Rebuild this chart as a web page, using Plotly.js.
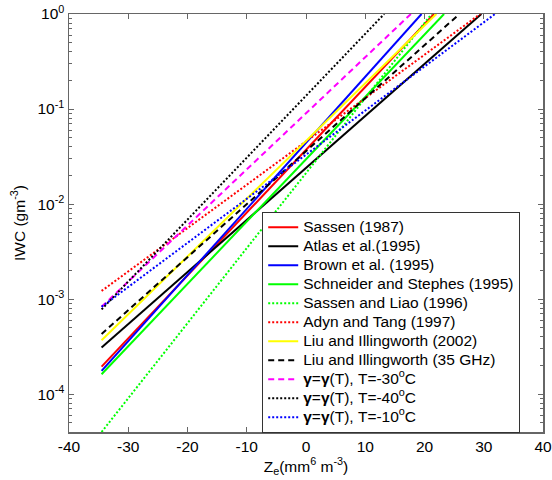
<!DOCTYPE html>
<html>
<head>
<meta charset="utf-8">
<script src="https://cdn.plot.ly/plotly-3.0.1.min.js"></script>
<style>html,body{margin:0;padding:0;background:#fff;}</style>
</head>
<body>
<div id="chart" style="width:552px;height:480px;"></div>
<script>
// Series names (legend order)
const seriesNames = [
  "Sassen (1987)",
  "Atlas et al.(1995)",
  "Brown et al. (1995)",
  "Schneider and Stephes (1995)",
  "Sassen and Liao (1996)",
  "Adyn and Tang (1997)",
  "Liu and Illingworth (2002)",
  "Liu and Illingworth (35 GHz)",
  "γ=γ(T), T=-30<sup>o</sup>C",
  "γ=γ(T), T=-40<sup>o</sup>C",
  "γ=γ(T), T=-10<sup>o</sup>C"
];
// Start of each line (Ze in dBZ, IWC in g m^-3)
const zeStart  = [-34.5, -34.5, -34.5, -34.5, -34.5, -34.5, -34.5, -34.5, -34.5, -34.5, -34.5];
const iwcStart = [1.95e-4, 3.1e-4, 1.76e-4, 1.62e-4, 4.0e-5, 1.22e-3, 3.7e-4, 4.3e-4, 8.3e-4, 7.8e-4, 8.3e-4];
// End of each line (where it leaves the top of the plot)
const zeEnd    = [21.6, 29.6, 19.5, 23.3, 21.2, 29.4, 22.0, 25.9, 17.7, 13.2, 31.9];
const iwcEnd   = [1, 1, 1, 1, 1, 1, 1, 1, 1, 1, 1];

// Axis ticks
const xTickVals = [-40, -30, -20, -10, 0, 10, 20, 30, 40];
const yTickVals = [1, 0.1, 0.01, 0.001, 0.0001];
const yTickText = ["10<sup>0</sup>", "10<sup>-1</sup>", "10<sup>-2</sup>", "10<sup>-3</sup>", "10<sup>-4</sup>"];

// Styles
const lineColors = ["#ff0000", "#000000", "#0000ff", "#00ff00", "#00ff00", "#ff0000", "#ffff00", "#000000", "#ff00ff", "#000000", "#0000ff"];
const lineDashes = ["solid", "solid", "solid", "solid", "2px,2px", "2px,2px", "solid", "6px,4px", "6px,4px", "2px,2px", "2px,2px"];

const FONT = "Arial, 'Liberation Sans', sans-serif";

const traces = seriesNames.map((name, i) => ({
  type: "scatter",
  mode: "lines",
  x: [zeStart[i], zeEnd[i]],
  y: [iwcStart[i], iwcEnd[i]],
  name: '<span style="font-size:15.5px">' + name.replace(/^γ=γ/, '<b>γ</b>=<b>γ</b>') + '</span>',
  line: { color: lineColors[i], width: 2, dash: lineDashes[i] },
  hoverinfo: "skip"
}));

const axisColor = "#666666";

const layout = {
  width: 552,
  height: 480,
  margin: { l: 69, r: 9, t: 14, b: 48, pad: 0 },
  paper_bgcolor: "#ffffff",
  plot_bgcolor: "#ffffff",
  font: { family: FONT, size: 15, color: "#000000" },
  showlegend: true,
  legend: {
    x: 0.4076, y: 0.5267, xanchor: "left", yanchor: "top",
    bgcolor: "#ffffff", bordercolor: "#333333", borderwidth: 1,
    font: { family: FONT, size: 11, color: "#000000" },
    tracegroupgap: 0
  },
  xaxis: {
    range: [-40, 40],
    tickvals: xTickVals,
    ticktext: xTickVals.map(String),
    ticks: "inside", ticklen: 5, tickwidth: 1, tickcolor: axisColor,
    showline: true, linecolor: axisColor, linewidth: 1.5, mirror: "ticks",
    showgrid: false, zeroline: false,
    tickfont: { family: FONT, size: 15.5, color: "#000000" },
    title: { text: "Z<sub>e</sub>(mm<sup>6</sup> m<sup>-3</sup>)", font: { family: FONT, size: 15.5, color: "#000000" }, standoff: 6 }
  },
  yaxis: {
    type: "log",
    range: [Math.log10(4e-5), 0],
    tickvals: yTickVals,
    ticktext: yTickText,
    ticks: "inside", ticklen: 5, tickwidth: 1, tickcolor: axisColor,
    minor: { ticks: "inside", ticklen: 3, tickcolor: axisColor, dtick: "D1", showgrid: false },
    showline: true, linecolor: axisColor, linewidth: 1.5, mirror: "ticks",
    showgrid: false, zeroline: false,
    tickfont: { family: FONT, size: 15.5, color: "#000000" },
    title: { text: "IWC (gm<sup>-3</sup>)", font: { family: FONT, size: 15.5, color: "#000000" }, standoff: 8 }
  }
};

Plotly.newPlot("chart", traces, layout, { displayModeBar: false, staticPlot: true });
</script>
</body>
</html>
